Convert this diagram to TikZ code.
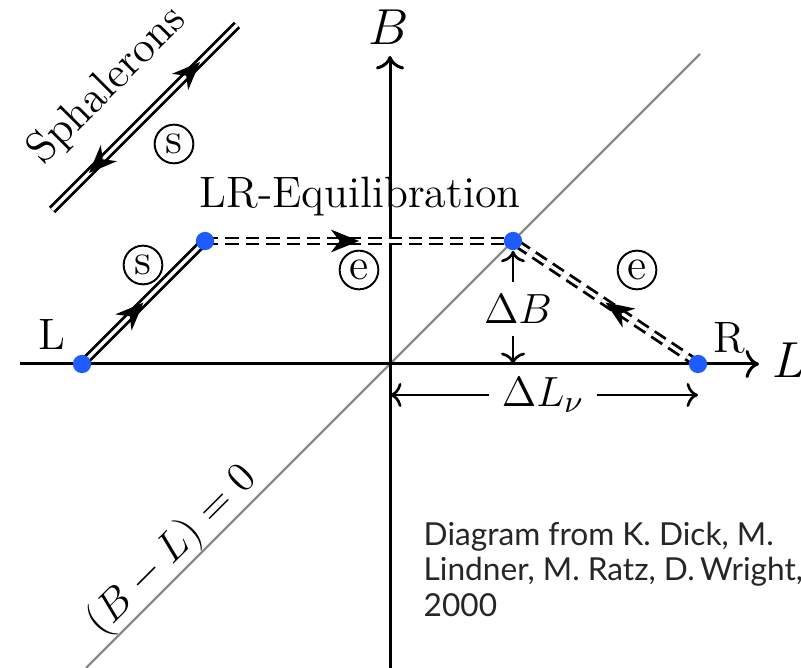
\documentclass[tikz,border=0pt]{standalone}
\usepackage{fontspec}
\usepackage{amsmath}
\usetikzlibrary{arrows.meta,decorations.markings}
\newfontfamily\creditfont{Lato}
\definecolor{ink}{HTML}{000000}
\definecolor{dotblue}{HTML}{1F5CFF}
\definecolor{diaggray}{HTML}{8A8A8A}
\definecolor{creditgray}{HTML}{262626}
\tikzset{
  every node/.style={font=\fontsize{12.5}{14}\selectfont},
  trackhead/.tip={Stealth[length=8pt,width=6.5pt,inset=2.5pt]},
  axisarrow/.style={-{Computer Modern Rightarrow[scale=1.1]}, line width=0.85pt, draw=ink},
  dimarrow/.style={-{Computer Modern Rightarrow}, line width=0.75pt, draw=ink},
  diagline/.style={line width=0.65pt, draw=diaggray},
  track/.style={draw=ink, line width=0.8pt, double=white, double distance=0.95pt},
  dashtrack/.style={track, dash pattern=on 3.8pt off 2pt},
  midarrow/.style={postaction={decorate, decoration={markings, mark=at position #1 with {\arrow{trackhead}}}}},
  revarrow/.style={postaction={decorate, decoration={markings, mark=at position #1 with {\arrowreversed{trackhead}}}}},
  dot/.style={circle, fill=dotblue, minimum size=5.2pt, inner sep=0pt},
  proc/.style={circle, draw=ink, line width=0.55pt, minimum size=11pt, inner sep=0pt},
  axislabel/.style={font=\fontsize{13.5}{15}\selectfont},
  credit/.style={font=\creditfont\fontsize{9}{10.2}\selectfont, text=creditgray, align=left, inner sep=0pt},
}
\begin{document}
\begin{tikzpicture}[x=0.01cm, y=-0.01cm]
\useasboundingbox (0,0) rectangle (801,668);
% axes and the B-L=0 line
\coordinate (O) at (390,364);
\coordinate (xmin) at (20,364); \coordinate (xmax) at (759,364);
\coordinate (ymin) at (390,668); \coordinate (ymax) at (390,56);
\coordinate (bl1) at (86,668); \coordinate (bl2) at (700,54);
\draw[diagline] (bl1) -- (bl2);
\draw[axisarrow] (xmin) -- (xmax);
\draw[axisarrow] (ymin) -- (ymax);
\node[axislabel] (Blab) at (389,27) {$B$};
\node[axislabel] (Llab) at (789,360) {$L$};
% states
\coordinate (Lp) at (82,364);
\coordinate (Sp) at (205,241);
\coordinate (Ep) at (513,241);
\coordinate (Rp) at (698,364);
\draw[track] (Lp) -- (Sp);
\draw[dashtrack] (Sp) -- (Ep);
\draw[dashtrack] (Rp) -- (Ep);
\path[ink, midarrow=0.5] (Lp) -- (Sp);
\path[ink, midarrow=0.5] (Sp) -- (Ep);
\path[ink, midarrow=0.5] (Rp) -- (Ep);
\node[dot] (L) at (Lp) {};
\node[dot] (S) at (Sp) {};
\node[dot] (E) at (Ep) {};
\node[dot] (R) at (Rp) {};
\node (Ltext) at (52,334) {L};
\node (Rtext) at (729,338) {R};
% sphaleron legend
\coordinate (sph1) at (52,210); \coordinate (sph2) at (237,25);
\draw[track] (sph1) -- (sph2);
\path[ink, midarrow=0.8, revarrow=0.2] (sph1) -- (sph2);
\node[rotate=45] (sph) at (108,86) {Sphalerons};
\node[proc] (s1) at (174,144) {s};
\node[proc] (s2) at (143,265) {s};
\node[proc] (e1) at (359,270) {e};
\node[proc] (e2) at (637,270) {e};
\node (lr) at (360,197) {LR-Equilibration};
\node[rotate=45] (blzero) at (172,551) {$(B-L)=0$};
% shifts
\node (dB) at (518,309) {$\Delta B$};
\draw[dimarrow] (dB.north -| E) -- (E);
\draw[dimarrow] (dB.south -| E) -- (E |- O);
\node (dL) at (543,395) {$\Delta L_\nu$};
\draw[dimarrow] (dL.west) -- (dL.west -| O);
\draw[dimarrow] (dL.east) -- (dL.east -| R);
\node[credit, anchor=north west] (src) at (423,521) {Diagram from K. Dick, M.\\Lindner, M. Ratz, D.\,Wright,\\2000};
\end{tikzpicture}
\end{document}
